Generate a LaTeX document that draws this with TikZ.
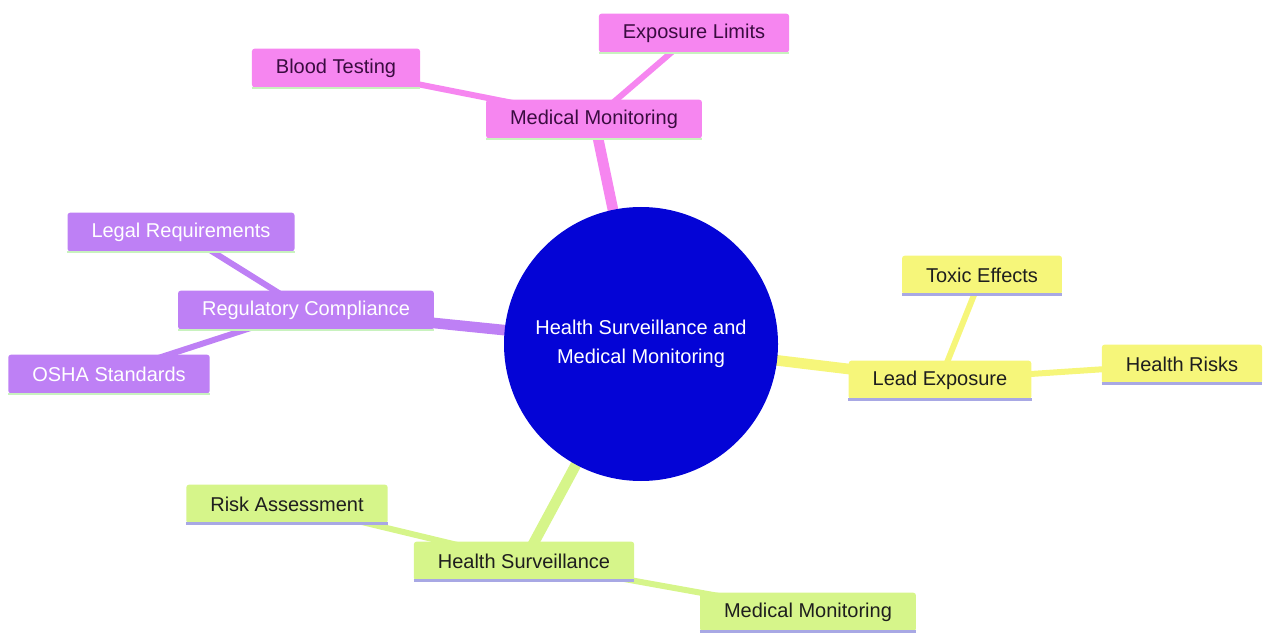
\documentclass[tikz,border=0pt]{standalone}
\usepackage{fontspec}
\setmainfont{Liberation Sans}
\usetikzlibrary{backgrounds}
\definecolor{pinkbox}{RGB}{246,134,240}
\definecolor{lilacbox}{RGB}{190,128,245}
\definecolor{yellowbox}{RGB}{246,246,122}
\definecolor{greenbox}{RGB}{214,245,138}
\definecolor{centreblue}{RGB}{4,4,214}
\definecolor{pinktext}{RGB}{58,12,64}
\definecolor{darktext}{RGB}{30,30,30}
\definecolor{greenline}{RGB}{200,242,190}
\definecolor{lavline}{RGB}{168,168,228}

\begin{document}
\begin{tikzpicture}[line cap=round,line join=round,x=0.75pt,y=-0.75pt,
	leaf/.style={rounded corners=2pt,minimum height=29pt,inner xsep=18pt,font=\fontsize{15}{18}\selectfont},
	pinkleaf/.style={leaf,fill=pinkbox,text=pinktext},
	lilacleaf/.style={leaf,fill=lilacbox,text=white},
	yellowleaf/.style={leaf,fill=yellowbox,text=darktext},
	greenleaf/.style={leaf,fill=greenbox,text=darktext},
	mainedge/.style={line width=8pt,line cap=butt},
	subedge/.style={line width=4.5pt,line cap=butt}]

		\useasboundingbox (0,0) rectangle (1263,634);

		%keskus
		\node[circle,fill=centreblue,text=white,minimum size=205.5pt,align=center,
			font=\fontsize{15}{21.75}\selectfont] (centre) at (641,344)
			{Health Surveillance and\\Medical Monitoring};

		%haara: Medical Monitoring
		\node[pinkleaf] (medmon) at (594,119) {Medical Monitoring};
		\node[pinkleaf] (explim) at (694,33) {Exposure Limits};
		\node[pinkleaf] (blood) at (336,68) {Blood Testing};

		%haara: Regulatory Compliance
		\node[lilacleaf] (regcomp) at (306,310) {Regulatory Compliance};
		\node[lilacleaf] (legal) at (181,232) {Legal Requirements};
		\node[lilacleaf] (osha) at (109,374) {OSHA Standards};

		%haara: Lead Exposure
		\node[yellowleaf] (lead) at (940,380) {Lead Exposure};
		\node[yellowleaf] (toxic) at (982,275) {Toxic Effects};
		\node[yellowleaf] (risks) at (1182,364) {Health Risks};

		%haara: Health Surveillance
		\node[greenleaf] (survei) at (524,561) {Health Surveillance};
		\node[greenleaf] (riskas) at (287,504) {Risk Assessment};
		\node[greenleaf] (medmonb) at (808,612) {Medical Monitoring};

		%alaviivat
		\foreach \n in {medmon,explim,blood,regcomp,legal,osha}
		{\draw[greenline,line width=1.5pt,line cap=butt] (\n.south west)--(\n.south east);}
		\foreach \n in {lead,toxic,risks,survei,riskas,medmonb}
		{\draw[lavline,line width=2.2pt,line cap=butt] (\n.south west)--(\n.south east);}

		% yhteydet
		\begin{scope}[on background layer]
		\draw[mainedge,pinkbox] (centre.center)--(medmon.center);
		\draw[subedge,pinkbox] (medmon.center)--(explim.center);
		\draw[subedge,pinkbox] (medmon.center)--(blood.center);

		\draw[mainedge,lilacbox] (centre.center)--(regcomp.center);
		\draw[subedge,lilacbox] (regcomp.center)--(legal.center);
		\draw[subedge,lilacbox] (regcomp.center)--(osha.center);

		\draw[mainedge,yellowbox] (centre.center)--(lead.center);
		\draw[subedge,yellowbox] (lead.center)--(toxic.center);
		\draw[subedge,yellowbox] (lead.center)--(risks.center);

		\draw[mainedge,greenbox] (centre.center)--(survei.center);
		\draw[subedge,greenbox] (survei.center)--(riskas.center);
		\draw[subedge,greenbox] (survei.center)--(medmonb.center);
		\end{scope}

	\end{tikzpicture}
\end{document}
